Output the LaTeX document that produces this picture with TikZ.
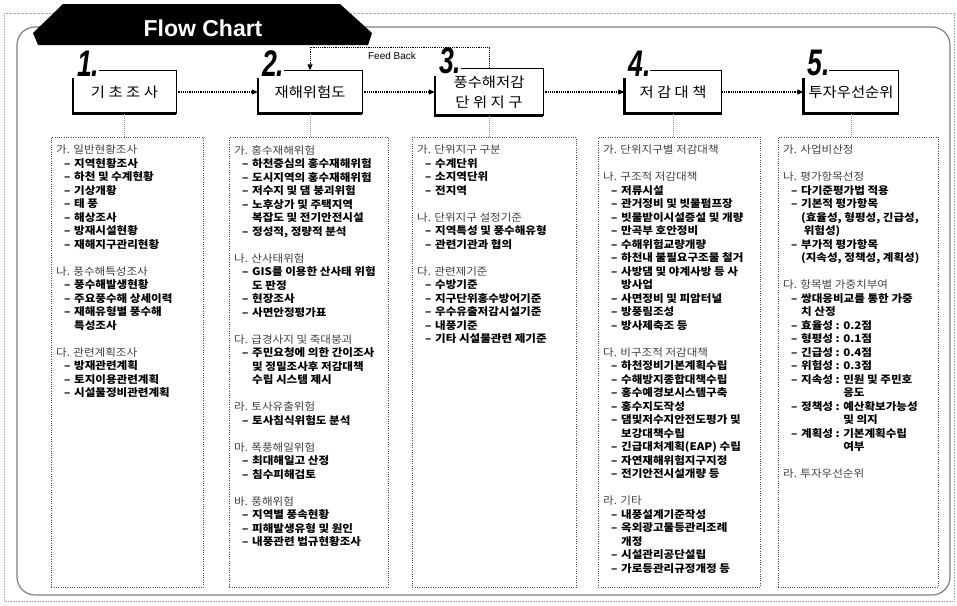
\documentclass[tikz,border=0pt]{standalone}
\usepackage{fontspec}
\usepackage{graphicx}
\setmainfont{Liberation Sans}
\newfontfamily\krfont{Noto Sans CJK KR}[FakeStretch=1.1]
\usetikzlibrary{arrows.meta}

\newcommand{\hd}[1]{{\mdseries\color{black!75}#1}}
\newcommand{\itm}[1]{\hspace*{8pt}\makebox[10pt][l]{–}#1}
\newcommand{\cnt}[1]{\hspace*{18pt}#1}

\begin{document}
\begin{tikzpicture}[x=1pt, y=-1pt,
    stepbox/.style={minimum height=43pt, align=center, inner sep=0pt, font=\krfont\fontsize{14}{20}\selectfont},
    num/.style={anchor=south west, inner sep=0pt, font=\fontsize{37}{37}\selectfont\bfseries\itshape},
    listbox/.style={draw=black!70, dash pattern=on 1pt off 1.3pt, line width=0.6pt, anchor=north west, minimum height=450pt, inner sep=0pt},
    listtext/.style={anchor=north west, align=left, inner sep=0pt, font=\krfont\fontsize{10.5}{13.5}\selectfont\bfseries},
    flow/.style={line width=1.2pt, dash pattern=on 1.2pt off 1pt, -{Triangle[length=6pt, width=5pt]}},
    drop/.style={black!45, line width=0.5pt, dash pattern=on 1pt off 1pt}]
    \useasboundingbox (0,0) rectangle (957,605);

    % frames and title
    \draw[black!35, line width=0.8pt, dash pattern=on 0.8pt off 0.8pt] (4,13) rectangle (954,601);
    \draw[black!50, line width=1.2pt, rounded corners=18pt] (17,27) rectangle (950,595);
    \fill[black] (63,4) -- (340,4) -- (372,33) -- (368,45) -- (38,45) -- (33,33) -- cycle;
    \node[text=white, font=\fontsize{23}{23}\selectfont\bfseries] (title) at (203,28) {Flow Chart};

    % steps
    \node[stepbox, minimum width=103pt] (s1) at (124.5,92) {기 초 조 사};
    \node[stepbox, minimum width=104pt] (s2) at (310,92) {재해위험도};
    \node[stepbox, minimum width=108pt, minimum height=47pt] (s3) at (489,92) {풍수해저감\\단 위 지 구};
    \node[stepbox, minimum width=97pt] (s4) at (673,92) {저 감 대 책};
    \node[stepbox, minimum width=95pt] (s5) at (851,92) {투자우선순위};
    \foreach \s in {s1,s2,s3,s4,s5}{
        \draw[line width=1.1pt] ([xshift=26pt]\s.north west) -- (\s.north east) -- (\s.south east);
        \draw[line width=2.6pt] (\s.south east) -- (\s.south west) -- ([yshift=-8pt]\s.north west);
    }
    \foreach \n in {1,...,5}
        \node[num] (n\n) at ([xshift=4pt, yshift=-6pt]s\n.north west) {\scalebox{0.72}[1]{\n.}};

    \foreach \a/\b in {s1/s2,s2/s3,s3/s4,s4/s5}
        \draw[flow] (\a) -- (\b);
    \coordinate (fb) at (392,47);
    \draw[flow, line width=1pt] (s3.north) |- (fb) -| (s2.north);
    \node[below, font=\fontsize{10}{10}\selectfont] (fblabel) at ([yshift=-2pt]fb) {Feed Back};

    % lists
    \foreach \c/\x/\w in {c1/51/152, c2/229/159, c3/412/164, c4/598/162, c5/778/160}
        \node[listbox, minimum width=\w pt] (\c) at (\x,137) {};
    \foreach \i in {1,...,5}
        \draw[drop] (s\i.south) -- (s\i.south |- c\i.north);

    \node[listtext] (t1) at ([xshift=5pt, yshift=-8pt]c1.north west) {%
        \hd{가. 일반현황조사}\\
        \itm{지역현황조사}\\
        \itm{하천 및 수계현황}\\
        \itm{기상개황}\\
        \itm{태 풍}\\
        \itm{해상조사}\\
        \itm{방재시설현황}\\
        \itm{재해지구관리현황}\\[13.5pt]
        \hd{나. 풍수해특성조사}\\
        \itm{풍수해발생현황}\\
        \itm{주요풍수해 상세이력}\\
        \itm{재해유형별 풍수해}\\
        \cnt{특성조사}\\[13.5pt]
        \hd{다. 관련계획조사}\\
        \itm{방재관련계획}\\
        \itm{토지이용관련계획}\\
        \itm{시설물정비관련계획}};

    \node[listtext] (t2) at ([xshift=5pt, yshift=-8pt]c2.north west) {%
        \hd{가. 홍수재해위험}\\
        \itm{하천중심의 홍수재해위험}\\
        \itm{도시지역의 홍수재해위험}\\
        \itm{저수지 및 댐 붕괴위험}\\
        \itm{노후상가 및 주택지역}\\
        \cnt{복잡도 및 전기안전시설}\\
        \itm{정성적, 정량적 분석}\\[13.5pt]
        \hd{나. 산사태위험}\\
        \itm{GIS를 이용한 산사태 위험}\\
        \cnt{도 판정}\\
        \itm{현장조사}\\
        \itm{사면안정평가표}\\[13.5pt]
        \hd{다. 급경사지 및 축대붕괴}\\
        \itm{주민요청에 의한 간이조사}\\
        \cnt{및 정밀조사후 저감대책}\\
        \cnt{수립 시스템 제시}\\[13.5pt]
        \hd{라. 토사유출위험}\\
        \itm{토사침식위험도 분석}\\[13.5pt]
        \hd{마. 폭풍해일위험}\\
        \itm{최대해일고 산정}\\
        \itm{침수피해검토}\\[13.5pt]
        \hd{바. 풍해위험}\\
        \itm{지역별 풍속현황}\\
        \itm{피해발생유형 및 원인}\\
        \itm{내풍관련 법규현황조사}};

    \node[listtext] (t3) at ([xshift=5pt, yshift=-8pt]c3.north west) {%
        \hd{가. 단위지구 구분}\\
        \itm{수계단위}\\
        \itm{소지역단위}\\
        \itm{전지역}\\[13.5pt]
        \hd{나. 단위지구 설정기준}\\
        \itm{지역특성 및 풍수해유형}\\
        \itm{관련기관과 협의}\\[13.5pt]
        \hd{다. 관련제기준}\\
        \itm{수방기준}\\
        \itm{지구단위홍수방어기준}\\
        \itm{우수유출저감시설기준}\\
        \itm{내풍기준}\\
        \itm{기타 시설물관련 제기준}};

    \node[listtext] (t4) at ([xshift=5pt, yshift=-8pt]c4.north west) {%
        \hd{가. 단위지구별 저감대책}\\[13.5pt]
        \hd{나. 구조적 저감대책}\\
        \itm{저류시설}\\
        \itm{관거정비 및 빗물펌프장}\\
        \itm{빗물받이시설증설 및 개량}\\
        \itm{만곡부 호안정비}\\
        \itm{수해위험교량개량}\\
        \itm{하천내 불필요구조물 철거}\\
        \itm{사방댐 및 야계사방 등 사}\\
        \cnt{방사업}\\
        \itm{사면정비 및 피암터널}\\
        \itm{방풍림조성}\\
        \itm{방사제축조 등}\\[13.5pt]
        \hd{다. 비구조적 저감대책}\\
        \itm{하천정비기본계획수립}\\
        \itm{수해방지종합대책수립}\\
        \itm{홍수예경보시스템구축}\\
        \itm{홍수지도작성}\\
        \itm{댐및저수지안전도평가 및}\\
        \cnt{보강대책수립}\\
        \itm{긴급대처계획(EAP) 수립}\\
        \itm{자연재해위험지구지정}\\
        \itm{전기안전시설개량 등}\\[13.5pt]
        \hd{라. 기타}\\
        \itm{내풍설계기준작성}\\
        \itm{옥외광고물등관리조례}\\
        \cnt{개정}\\
        \itm{시설관리공단설립}\\
        \itm{가로등관리규정개정 등}};

    \node[listtext] (t5) at ([xshift=5pt, yshift=-8pt]c5.north west) {%
        \hd{가. 사업비산정}\\[13.5pt]
        \hd{나. 평가항목선정}\\
        \itm{다기준평가법 적용}\\
        \itm{기본적 평가항목}\\
        \cnt{(효율성, 형평성, 긴급성,}\\
        \cnt{\ 위험성)}\\
        \itm{부가적 평가항목}\\
        \cnt{(지속성, 정책성, 계획성)}\\[13.5pt]
        \hd{다. 항목별 가중치부여}\\
        \itm{쌍대응비교를 통한 가중}\\
        \cnt{치 산정}\\
        \itm{효율성 : 0.2점}\\
        \itm{형평성 : 0.1점}\\
        \itm{긴급성 : 0.4점}\\
        \itm{위험성 : 0.3점}\\
        \itm{지속성 : 민원 및 주민호}\\
        \cnt{\phantom{지속성 : }응도}\\
        \itm{정책성 : 예산확보가능성}\\
        \cnt{\phantom{정책성 : }및 의지}\\
        \itm{계획성 : 기본계획수립}\\
        \cnt{\phantom{계획성 : }여부}\\[13.5pt]
        \hd{라. 투자우선순위}};
\end{tikzpicture}
\end{document}
